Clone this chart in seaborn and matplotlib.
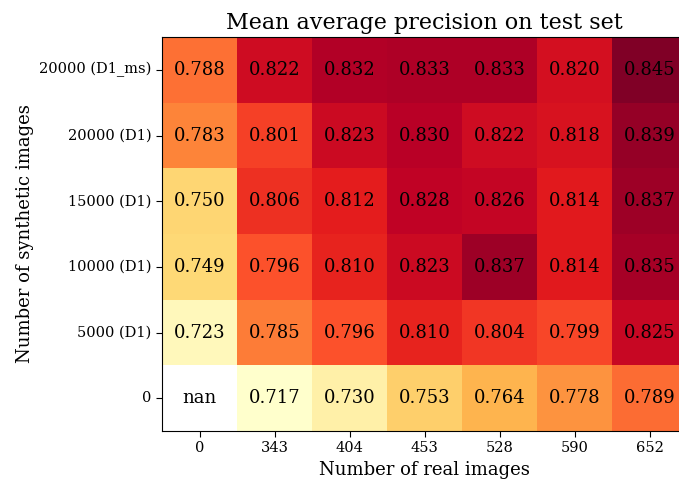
import numpy as np
import pandas as pd
import matplotlib
matplotlib.use("Agg")
import matplotlib.pyplot as plt
import seaborn as sns

real_images = ["0", "343", "404", "453", "528", "590", "652"]
synthetic_images = ["20000 (D1_ms)", "20000 (D1)", "15000 (D1)", "10000 (D1)", "5000 (D1)", "0"]
row_d1_ms_20000 = [0.788, 0.822, 0.832, 0.833, 0.833, 0.820, 0.845]
row_d1_20000 = [0.783, 0.801, 0.823, 0.830, 0.822, 0.818, 0.839]
row_d1_15000 = [0.750, 0.806, 0.812, 0.828, 0.826, 0.814, 0.837]
row_d1_10000 = [0.749, 0.796, 0.810, 0.823, 0.837, 0.814, 0.835]
row_d1_5000 = [0.723, 0.785, 0.796, 0.810, 0.804, 0.799, 0.825]
row_0 = [np.nan, 0.717, 0.730, 0.753, 0.764, 0.778, 0.789]

df = pd.DataFrame([row_d1_ms_20000, row_d1_20000, row_d1_15000, row_d1_10000, row_d1_5000, row_0],
                  index=synthetic_images, columns=real_images)

plt.rcParams['font.family'] = ['DejaVu Serif']
fig = plt.figure(figsize=(6.79, 4.82), dpi=100)
ax = fig.add_axes([0.2386, 0.1058, 0.774, 0.8174])

labels = df.map(lambda v: "nan" if np.isnan(v) else f"{v:.3f}").values
sns.heatmap(df, ax=ax, cmap="YlOrRd", annot=labels, fmt="", cbar=False,
            annot_kws={"fontsize": 13, "color": "black", "family": "DejaVu Serif"})
for i, r in enumerate(df.index):
    for j, c in enumerate(df.columns):
        if np.isnan(df.loc[r, c]):
            ax.text(j + 0.5, i + 0.5, "nan", ha="center", va="center", fontsize=13, color="black")

for s in ax.spines.values():
    s.set_visible(True)
    s.set_color("black")
    s.set_linewidth(0.8)
ax.tick_params(axis="both", which="both", length=4, width=0.8, labelsize=10.5, color="black")
ax.set_yticklabels(synthetic_images, rotation=0)
ax.set_xticklabels(real_images, rotation=0)
ax.set_xlabel("Number of real images", fontsize=13)
ax.set_ylabel("Number of synthetic images", fontsize=13, labelpad=4)
ax.set_title("Mean average precision on test set", fontsize=16)

fig.savefig("out.png", dpi=100)
